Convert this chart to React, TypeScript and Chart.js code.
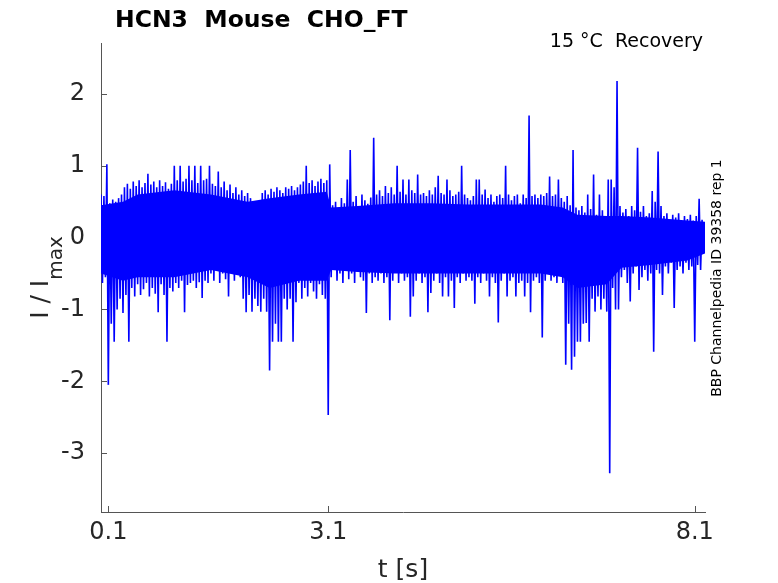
import { useEffect, useRef } from 'react';
import { Chart, registerables } from 'chart.js';

Chart.register(...registerables);

// trace sampled every 40 ms: highest and lowest current seen in each sample window
const sampleStep = 0.04;

const peaks = [
  0.6, 0.58, 1.02, 0.48, 0.53, 0.5, 0.55, 0.6, 0.7, 0.75,
  0.68, 0.78, 0.72, 0.8, 0.7, 0.76, 0.89, 0.74, 0.78, 0.7,
  0.8, 0.72, 0.77, 0.68, 0.75, 1.0, 0.8, 1.0, 0.78, 0.82,
  1.0, 0.8, 1.0, 0.76, 1.0, 0.8, 0.82, 1.0, 0.75, 0.72,
  0.92, 0.7, 0.78, 0.66, 0.74, 0.62, 0.7, 0.6, 0.66, 0.58,
  0.62, 0.55, 0.48, 0.5, 0.46, 0.62, 0.66, 0.6, 0.68, 0.64,
  0.7, 0.66, 0.62, 0.7, 0.68, 0.72, 0.66, 0.7, 0.74, 0.78,
  1.0, 0.76, 0.8, 0.72, 0.78, 0.82, 0.76, 0.8, 1.02, 0.45,
  0.5, 0.42, 0.55, 0.48, 0.81, 1.22, 0.5, 0.58, 0.44, 0.6,
  0.52, 0.47, 0.56, 1.39, 0.6, 0.66, 0.58, 0.72, 0.62, 0.7,
  0.6, 1.0, 0.64, 0.81, 0.6, 0.81, 0.66, 0.62, 0.88, 0.6,
  0.62, 0.58, 0.66, 0.6, 0.7, 0.86, 0.62, 0.6, 0.81, 0.66,
  0.58, 0.6, 0.64, 1.0, 0.6, 0.55, 0.52, 0.58, 0.81, 0.81,
  0.6, 0.67, 0.55, 0.6, 0.5, 0.58, 0.6, 0.55, 1.0, 0.6,
  0.52, 0.58, 0.6, 0.48, 0.6, 0.55, 1.7, 0.58, 0.6, 0.55,
  0.6, 0.58, 0.62, 0.85, 0.58, 0.6, 0.81, 0.55, 0.5, 0.58,
  0.45, 1.22, 0.42, 0.38, 0.44, 0.35, 0.6, 0.4, 0.88, 0.32,
  0.6, 0.38, 0.3, 0.81, 0.81, 0.7, 2.18, 0.44, 0.35, 0.4,
  0.3, 0.44, 0.38, 1.25, 0.36, 0.44, 0.3, 0.34, 0.65, 0.5,
  1.2, 0.44, 0.3, 0.34, 0.25, 0.32, 0.28, 0.34, 0.22, 0.3,
  0.26, 0.32, 0.24, 0.3, 0.54, 0.25,
];

const troughs = [
  -0.63, -0.55, -2.05, -1.2, -1.45, -1.0, -0.85, -1.05, -0.8, -1.45,
  -0.7, -0.82, -0.65, -0.8, -0.72, -0.63, -0.82, -0.7, -0.78, -1.04,
  -0.65, -0.8, -1.45, -0.7, -0.75, -0.63, -0.7, -0.6, -1.04, -0.66,
  -0.63, -0.6, -0.7, -0.62, -0.84, -0.6, -0.63, -0.5, -0.6, -0.45,
  -0.63, -0.5, -0.58, -0.82, -0.48, -0.6, -0.45, -0.55, -0.85, -1.04,
  -0.8, -1.03, -0.85, -0.95, -1.03, -0.85, -1.03, -1.85, -1.45, -1.2,
  -1.45, -1.45, -0.85, -1.0, -0.85, -1.45, -0.9, -0.63, -0.85, -0.7,
  -0.82, -0.63, -0.75, -0.85, -0.65, -0.8, -0.85, -2.47, -0.55, -0.45,
  -0.6, -0.5, -0.63, -0.45, -0.58, -0.5, -0.63, -0.45, -0.55, -0.6,
  -1.05, -0.5, -0.63, -0.55, -0.6, -0.5, -0.63, -0.55, -1.15, -0.6,
  -0.45, -0.63, -0.5, -0.6, -0.55, -1.1, -0.82, -0.6, -0.5, -0.63,
  -0.55, -1.04, -0.77, -0.6, -0.5, -0.63, -0.82, -0.55, -0.82, -0.6,
  -0.98, -0.55, -0.63, -0.5, -0.6, -0.55, -0.6, -0.92, -0.55, -0.63,
  -0.5, -0.6, -0.82, -0.55, -0.63, -1.18, -0.6, -0.5, -0.82, -0.6,
  -0.55, -0.82, -0.63, -0.6, -0.82, -0.63, -1.04, -0.6, -0.55, -0.63,
  -1.39, -0.6, -0.5, -0.6, -0.55, -0.63, -0.5, -0.63, -1.77, -1.2,
  -1.84, -1.66, -1.45, -1.45, -1.2, -1.19, -1.45, -0.85, -1.03, -0.82,
  -1.0, -0.85, -1.03, -3.28, -0.7, -1.0, -1.0, -0.55, -0.45, -0.63,
  -0.89, -0.5, -0.4, -0.73, -0.55, -0.45, -0.6, -0.5, -1.59, -0.45,
  -0.5, -0.8, -0.4, -0.5, -0.35, -0.98, -0.45, -0.4, -0.5, -0.35,
  -0.45, -0.4, -1.45, -0.38, -0.45, -0.21,
];

// limits of the solid part of the noise band
const coreTimes = [0, 0.3, 0.5, 1.0, 1.5, 2.0, 2.3, 2.7, 3.08, 3.14, 3.5, 4.0, 4.5, 5.0, 5.5, 6.0, 6.3, 6.5, 6.9, 7.1, 7.5, 8.0, 8.24];
const coreTop = [0.45, 0.5, 0.6, 0.66, 0.6, 0.5, 0.55, 0.6, 0.64, 0.42, 0.44, 0.48, 0.48, 0.46, 0.46, 0.46, 0.42, 0.32, 0.3, 0.3, 0.28, 0.24, 0.22];
const coreBottom = [-0.5, -0.6, -0.55, -0.55, -0.45, -0.55, -0.7, -0.6, -0.6, -0.45, -0.48, -0.5, -0.5, -0.5, -0.5, -0.5, -0.55, -0.7, -0.65, -0.42, -0.38, -0.32, -0.22];

const xTicks = [0.1, 3.1, 8.1];
const yTicks = [-3, -2, -1, 0, 1, 2];

const titleText = 'HCN3  Mouse  CHO_FT';
const conditionText = '15 °C  Recovery';
const sourceText = 'BBP Channelpedia ID 39358 rep 1';

const FONT = '"DejaVu Sans", sans-serif';
const AXIS_COLOR = '#555555';
const TEXT_COLOR = '#262626';
const TRACE_COLOR = '#0000ff';

const decorations = {
    id: 'decorations',
    beforeDatasetsDraw(chart: Chart) {
        const { ctx, chartArea, scales } = chart;
        ctx.save();
        ctx.strokeStyle = AXIS_COLOR;
        ctx.lineWidth = 1;
        // MATLAB style ticks pointing into the axes
        xTicks.forEach((v) => {
            const px = Math.round(scales.x.getPixelForValue(v)) + 0.5;
            ctx.beginPath();
            ctx.moveTo(px, chartArea.bottom);
            ctx.lineTo(px, chartArea.bottom - 6);
            ctx.stroke();
        });
        yTicks.forEach((v) => {
            const py = Math.round(scales.y.getPixelForValue(v)) + 0.5;
            ctx.beginPath();
            ctx.moveTo(chartArea.left, py);
            ctx.lineTo(chartArea.left + 6, py);
            ctx.stroke();
        });
        ctx.restore();
    },
    afterDraw(chart: Chart) {
        const { ctx, chartArea } = chart;
        ctx.save();

        // title
        ctx.fillStyle = '#000';
        ctx.font = `bold 23.5px ${FONT}`;
        ctx.textAlign = 'left';
        ctx.textBaseline = 'alphabetic';
        ctx.fillText(titleText, 115, 27);

        // condition, top right
        ctx.font = `19px ${FONT}`;
        ctx.textAlign = 'right';
        ctx.fillText(conditionText, 703, 47);

        // x label
        ctx.fillStyle = TEXT_COLOR;
        ctx.font = `25px ${FONT}`;
        ctx.textAlign = 'center';
        ctx.fillText('t [s]', (chartArea.left + chartArea.right) / 2, 577);

        // y label with subscript
        ctx.font = `25px ${FONT}`;
        const mainW = ctx.measureText('I / I').width;
        ctx.font = `20px ${FONT}`;
        const subW = ctx.measureText('max').width;
        const midY = (chartArea.top + chartArea.bottom) / 2;
        ctx.save();
        ctx.translate(48, midY + (mainW + subW) / 2);
        ctx.rotate(-Math.PI / 2);
        ctx.textAlign = 'left';
        ctx.font = `25px ${FONT}`;
        ctx.fillText('I / I', 0, 0);
        ctx.font = `20px ${FONT}`;
        ctx.fillText('max', mainW, 14);
        ctx.restore();

        // source, vertical on the right
        ctx.save();
        ctx.fillStyle = '#000';
        ctx.translate(721, 278);
        ctx.rotate(-Math.PI / 2);
        ctx.font = `14px ${FONT}`;
        ctx.textAlign = 'center';
        ctx.fillText(sourceText, 0, 0);
        ctx.restore();

        ctx.restore();
    },
};

export default function App() {
    const canvasRef = useRef<HTMLCanvasElement>(null);
    const chartRef = useRef<Chart | null>(null);

    useEffect(() => {
        if (!canvasRef.current) return;
        const ctx = canvasRef.current.getContext('2d');
        if (!ctx) return;

        if (chartRef.current) {
            chartRef.current.destroy();
        }

        // zig-zag between each window's peak and trough
        const trace: { x: number; y: number }[] = [];
        peaks.forEach((p, i) => {
            trace.push({ x: i * sampleStep, y: p });
            trace.push({ x: i * sampleStep + sampleStep / 2, y: troughs[i] });
        });

        chartRef.current = new Chart(ctx, {
            type: 'line',
            data: {
                datasets: [
                    {
                        data: coreTimes.map((t, i) => ({ x: t, y: coreTop[i] })),
                        borderWidth: 0,
                        pointRadius: 0,
                        backgroundColor: TRACE_COLOR,
                        fill: '+1',
                    },
                    {
                        data: coreTimes.map((t, i) => ({ x: t, y: coreBottom[i] })),
                        borderWidth: 0,
                        pointRadius: 0,
                        fill: false,
                    },
                    {
                        data: trace,
                        borderColor: TRACE_COLOR,
                        borderWidth: 1.6,
                        pointRadius: 0,
                        tension: 0,
                        fill: false,
                    },
                ],
            },
            options: {
                responsive: false,
                animation: false,
                layout: { padding: { top: 43, right: 73, left: 0, bottom: 0 } },
                plugins: {
                    legend: { display: false },
                    tooltip: { enabled: false },
                    title: { display: false },
                },
                scales: {
                    x: {
                        type: 'linear',
                        min: 0,
                        max: 8.24,
                        grid: { display: false, drawTicks: false },
                        border: { display: true, color: AXIS_COLOR, width: 1 },
                        afterBuildTicks: (scale) => {
                            scale.ticks = xTicks.map((v) => ({ value: v }));
                        },
                        afterFit: (scale) => {
                            scale.height = 71;
                        },
                        ticks: {
                            color: TEXT_COLOR,
                            font: { family: FONT, size: 24 },
                            padding: 6,
                            maxRotation: 0,
                            callback: (v) => Number(v).toFixed(1),
                        },
                    },
                    y: {
                        type: 'linear',
                        min: -3.82,
                        max: 2.71,
                        grid: { display: false, drawTicks: false },
                        border: { display: true, color: AXIS_COLOR, width: 1 },
                        afterBuildTicks: (scale) => {
                            scale.ticks = yTicks.map((v) => ({ value: v }));
                        },
                        afterFit: (scale) => {
                            scale.width = 101;
                        },
                        ticks: {
                            color: TEXT_COLOR,
                            font: { family: FONT, size: 24 },
                            padding: 16,
                            callback: (v) => String(v),
                        },
                    },
                },
            },
            plugins: [decorations],
        });

        return () => {
            if (chartRef.current) {
                chartRef.current.destroy();
                chartRef.current = null;
            }
        };
    }, []);

    return (
        <div style={{ position: 'fixed', left: 0, top: 0, width: 778, height: 583, background: '#fff' }}>
            <canvas ref={canvasRef} width={778} height={583}></canvas>
        </div>
    );
}
